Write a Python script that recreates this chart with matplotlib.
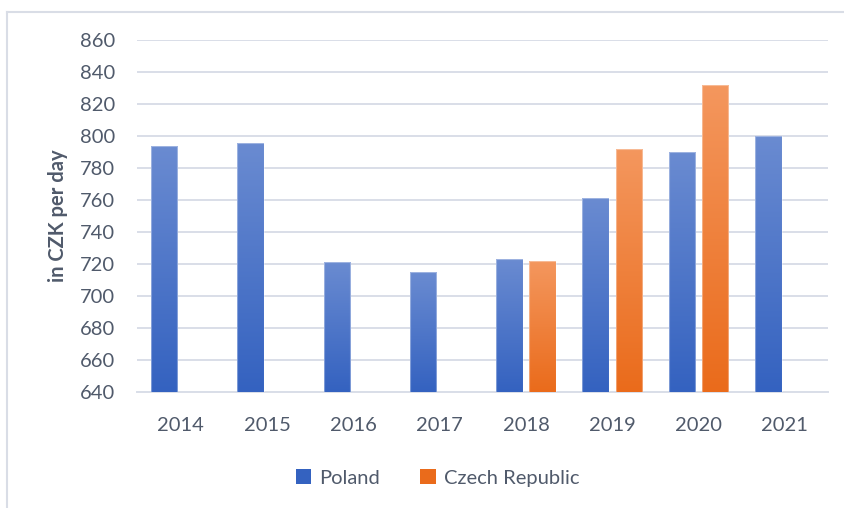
import numpy as np
import matplotlib
matplotlib.use("Agg")
import matplotlib.pyplot as plt
from matplotlib.colors import LinearSegmentedColormap
from matplotlib.patches import Patch
from matplotlib.lines import Line2D

years = ["2014", "2015", "2016", "2017", "2018", "2019", "2020", "2021"]
poland = [794, 796, 721, 715, 723, 761, 790, 800]
czech = [np.nan, np.nan, np.nan, np.nan, 722, 792, 832, np.nan]
series_names = ["Poland", "Czech Republic"]
y_ticks = list(range(640, 861, 20))

plt.rcParams['font.family'] = ['Lato', 'DejaVu Sans']
text_color = "#505a6b"
grid_color = "#d9dee8"

blue_top, blue_bot = "#6a8bd1", "#3462c0"
orange_top, orange_bot = "#f4975e", "#ea6b1b"

fig = plt.figure(figsize=(8.45, 5.08), dpi=100)
ax = fig.add_axes([0.1627, 0.2293, 0.8173, 0.691])

x = np.arange(len(years))
bw = 0.307
gap = 0.076
off = (bw + gap) / 2

ymin, ymax = 640, 860
ax.set_ylim(ymin, ymax)
ax.set_xlim(-0.5, len(years) - 0.5)

def grad_bars(xpos, vals, ctop, cbot):
    cmap = LinearSegmentedColormap.from_list("g", [cbot, ctop])
    bars = ax.bar(xpos, vals, width=bw, bottom=0, facecolor="none",
                  edgecolor="none", zorder=3)
    grad = np.linspace(0, 1, 256).reshape(-1, 1)
    for b, v in zip(bars, vals):
        if np.isnan(v):
            continue
        x0 = b.get_x()
        x1 = x0 + b.get_width()
        im = ax.imshow(grad, extent=[x0, x1, ymin, v], origin="lower",
                       cmap=cmap, aspect="auto", zorder=3,
                       interpolation="bicubic")
        im.set_clip_path(b)
        ax.plot([x0, x0, x1, x1], [ymin, v, v, ymin], color="white",
                alpha=0.35, lw=0.8, zorder=4)
    return bars

grad_bars(x - off, poland, blue_top, blue_bot)
grad_bars(x + off, czech, orange_top, orange_bot)
ax.set_xlim(-0.5, len(years) - 0.5)
ax.set_ylim(ymin, ymax)

ax.set_yticks(y_ticks)
ax.set_xticks(x)
ax.set_xticklabels(years)
ax.yaxis.grid(True, color=grid_color, lw=1.4, zorder=0)
ax.set_axisbelow(True)
for s in ["top", "right", "left"]:
    ax.spines[s].set_visible(False)
ax.spines["bottom"].set_color(grid_color)
ax.spines["bottom"].set_linewidth(1.4)
ax.tick_params(axis="both", length=0, labelsize=14.5, colors=text_color)
ax.tick_params(axis="y", pad=16)
ax.tick_params(axis="x", pad=18)

ax.set_ylabel("in CZK per day", fontsize=14.5, fontweight="bold", color=text_color)
ax.yaxis.set_label_coords(-0.1, 0.5)

handles = [Patch(facecolor=blue_bot, edgecolor="none"),
           Patch(facecolor=orange_bot, edgecolor="none")]
fig.legend(handles, series_names, loc="center", bbox_to_anchor=(0.518, 0.059),
           ncol=2, frameon=False, fontsize=14.5, labelcolor=text_color,
           handlelength=0.75, handleheight=0.75, handletextpad=0.4,
           columnspacing=2.0)

# chart frame (top and left edges visible)
W, H = 845, 508
fig.add_artist(Line2D([7 / W, 1.0], [1 - 12 / H, 1 - 12 / H], color="#d9dde6", lw=1.5,
                      transform=fig.transFigure))
fig.add_artist(Line2D([7 / W, 7 / W], [0.0, 1 - 12 / H], color="#d9dde6", lw=1.5,
                      transform=fig.transFigure))

fig.savefig("out.png", dpi=100)
